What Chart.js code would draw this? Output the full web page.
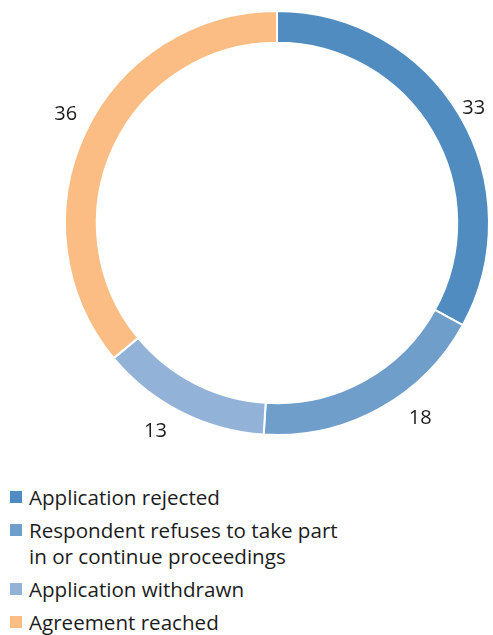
<!DOCTYPE html>
<html>
<head>
<meta charset="utf-8">
<script src="https://cdn.jsdelivr.net/npm/chart.js@4"></script>
<style>
  body { margin: 0; background: #fff; font-family: "Open Sans", sans-serif; }
  #wrap { position: relative; width: 493px; height: 460px; }
  #legenda { position: absolute; top: 484px; left: 10px; width: 340px; color: #1c1c1c; }
  .item { display: flex; align-items: flex-start; font-size: 20.6px; line-height: 26px; margin-bottom: 7px; }
  .caixa { width: 12px; height: 12px; margin-top: 7px; margin-right: 7px; flex: none; }
</style>
</head>
<body>
<div id="wrap"><canvas id="rosca"></canvas></div>
<div id="legenda"></div>
<script>
const categorias = ['Application rejected', 'Respondent refuses to take part in or continue proceedings', 'Application withdrawn', 'Agreement reached'];
const valores = [33, 18, 13, 36];
const cores = ['#518cc0', '#6f9ecb', '#92b3d7', '#fbbd84'];

// rotulos fora do anel (com pequenos ajustes em pixels)
const ajustes = { 0: [-9, 7], 1: [28, -14], 2: [-13, -5], 3: [5, -7] };
const rotulosFora = {
  id: 'rotulosFora',
  afterDatasetsDraw(chart) {
    const ctx = chart.ctx;
    const meta = chart.getDatasetMeta(0);
    ctx.save();
    ctx.font = '20px "Open Sans", sans-serif';
    ctx.fillStyle = '#1c1c1c';
    ctx.textAlign = 'center';
    ctx.textBaseline = 'middle';
    meta.data.forEach((arc, i) => {
      const p = arc.getProps(['startAngle', 'endAngle', 'x', 'y', 'outerRadius'], true);
      const meio = (p.startAngle + p.endAngle) / 2;
      const r = p.outerRadius + 27;
      const a = ajustes[i] || [0, 0];
      ctx.fillText(valores[i], p.x + Math.cos(meio) * r + a[0], p.y + Math.sin(meio) * r + a[1]);
    });
    ctx.restore();
  }
};

new Chart(document.getElementById('rosca').getContext('2d'), {
  type: 'doughnut',
  data: {
    labels: categorias,
    datasets: [{
      data: valores,
      backgroundColor: cores,
      borderColor: '#fff',
      borderWidth: 2
    }]
  },
  options: {
    responsive: true,
    maintainAspectRatio: false,
    animation: false,
    cutout: '85%',
    layout: { padding: { top: 10, bottom: 24, left: 64, right: 3 } },
    plugins: {
      legend: { display: false },
      tooltip: { enabled: false }
    }
  },
  plugins: [rotulosFora]
});

const legenda = document.getElementById('legenda');
categorias.forEach((nome, i) => {
  const div = document.createElement('div');
  div.className = 'item';
  div.innerHTML = `<span class="caixa" style="background:${cores[i]}"></span><span>${nome}</span>`;
  legenda.appendChild(div);
});
</script>
</body>
</html>
